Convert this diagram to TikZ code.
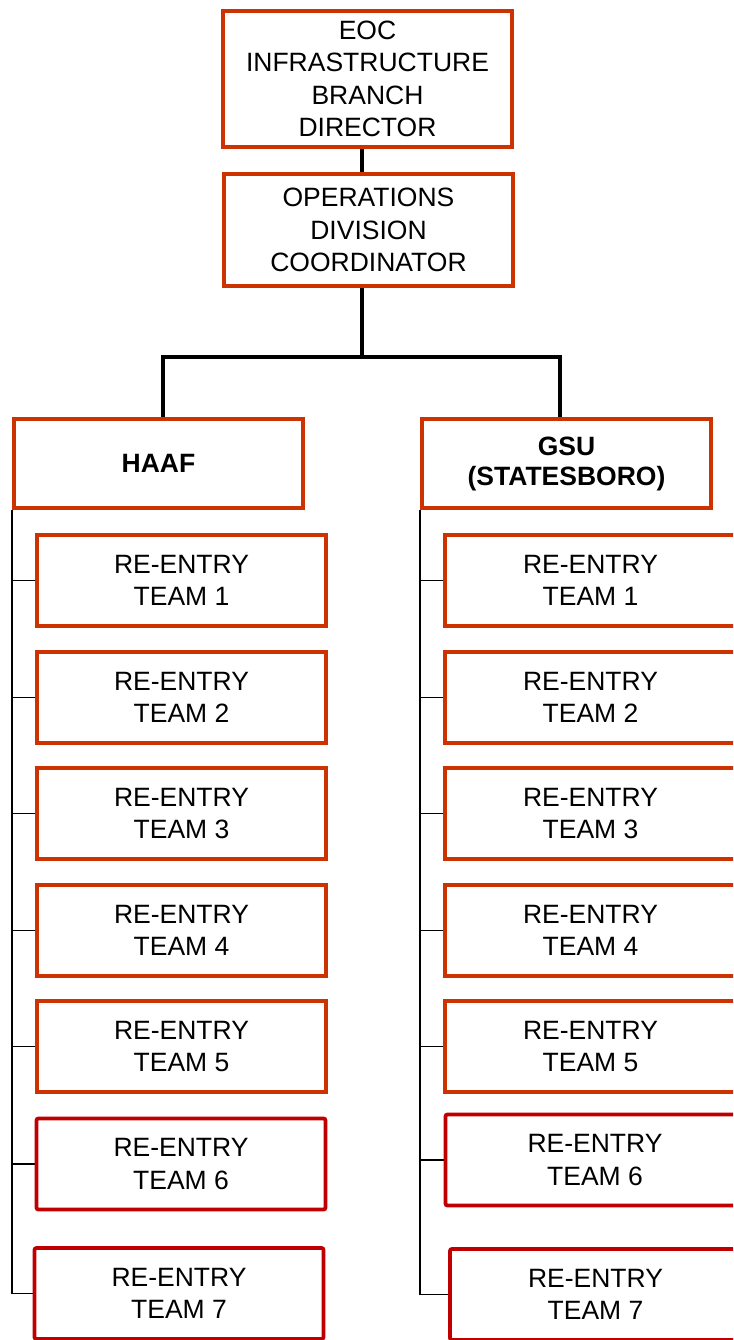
\documentclass[tikz,border=0pt]{standalone}
\usepackage{fontspec}
\setmainfont{Liberation Sans}
\usetikzlibrary{backgrounds}
\definecolor{boxor}{RGB}{204,51,0}
\definecolor{boxred}{RGB}{192,0,0}
\begin{document}
\begin{tikzpicture}[x=1pt,y=-1pt,
  box/.style={draw=boxor,line width=3.8pt,fill=white,align=center,inner sep=0pt,
    minimum width=289pt,font=\fontsize{26.5}{32.5}\selectfont},
  teambox/.style={box,minimum height=91pt},
  redbox/.style={teambox,draw=boxred,rounded corners=2pt},
  bus/.style={line width=4pt,draw=black},
  leaf/.style={line width=1.3pt,draw=black}]
\useasboundingbox (0,0) rectangle (733,1340);
\clip (0,0) rectangle (733,1340);

\node[box,minimum height=136pt] (eoc) at (367.5,79) {EOC\\INFRASTRUCTURE\\BRANCH\\DIRECTOR};
\node[box,minimum height=112pt] (ops) at (368.5,230) {OPERATIONS\\DIVISION\\COORDINATOR};
\node[box,minimum height=89pt,font=\fontsize{26.5}{32.5}\selectfont\bfseries] (haaf) at (158.5,463.5) {HAAF};
\node[box,minimum height=89pt,font=\fontsize{26.5}{30}\selectfont\bfseries] (gsu) at (566.5,463.5) {GSU\\(STATESBORO)};

% left column
\node[teambox] (l1) at (181.5,580.5) {RE-ENTRY\\TEAM 1};
\node[teambox] (l2) at (181.5,697.5) {RE-ENTRY\\TEAM 2};
\node[teambox] (l3) at (181.5,813.5) {RE-ENTRY\\TEAM 3};
\node[teambox] (l4) at (181.5,930.5) {RE-ENTRY\\TEAM 4};
\node[teambox] (l5) at (181.5,1046.5) {RE-ENTRY\\TEAM 5};
\node[redbox] (l6) at (181,1164) {RE-ENTRY\\TEAM 6};
\node[redbox] (l7) at (179,1293.5) {RE-ENTRY\\TEAM 7};

% right column
\node[teambox,minimum width=291pt] (r1) at (590.5,580.5) {RE-ENTRY\\TEAM 1};
\node[teambox,minimum width=291pt] (r2) at (590.5,697.5) {RE-ENTRY\\TEAM 2};
\node[teambox,minimum width=291pt] (r3) at (590.5,813.5) {RE-ENTRY\\TEAM 3};
\node[teambox,minimum width=291pt] (r4) at (590.5,930.5) {RE-ENTRY\\TEAM 4};
\node[teambox,minimum width=291pt] (r5) at (590.5,1046.5) {RE-ENTRY\\TEAM 5};
\node[redbox,minimum width=299pt] (r6) at (595,1160) {RE-ENTRY\\TEAM 6};
\node[redbox,minimum width=291pt] (r7) at (595.5,1294.5) {RE-ENTRY\\TEAM 7};

\coordinate (spine) at (362,300);
\coordinate (bl) at (163,357);
\coordinate (br) at (560,357);

\begin{scope}[on background layer]
\draw[bus] (eoc.south -| spine) -- (ops.north -| spine);
\draw[bus] (ops.south -| spine) -- (spine |- bl);
\draw[bus] (haaf.north -| bl) -- (bl) -- (br) -- (gsu.north -| br);
\draw[leaf] (haaf.south west) |- (l7.west);
\foreach \i in {1,...,6} \draw[leaf] (haaf.south west |- l\i.west) -- (l\i.west);
\draw[leaf] (gsu.south west) |- (r7.west);
\foreach \i in {1,...,6} \draw[leaf] (gsu.south west |- r\i.west) -- (r\i.west);
\end{scope}
\end{tikzpicture}
\end{document}
